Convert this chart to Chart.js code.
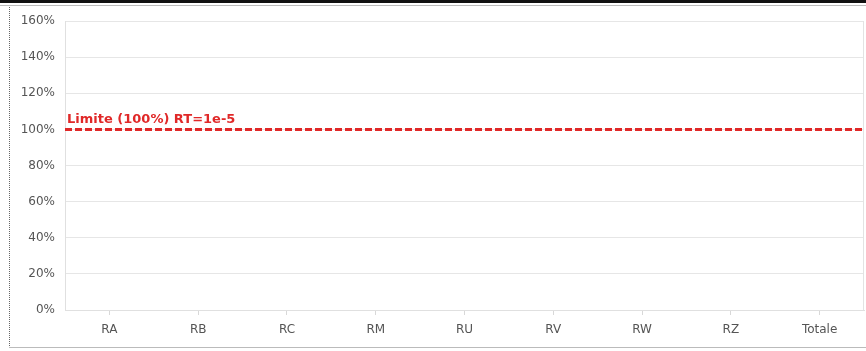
<!DOCTYPE html>
<html>
<head>
<meta charset="utf-8">
<script src="https://cdn.jsdelivr.net/npm/chart.js@4"></script>
<style>
  html, body { margin: 0; padding: 0; background: #fff; }
  #wrap { position: relative; width: 866px; height: 351px; overflow: hidden; }
  #chart { position: absolute; left: 0; top: 0; }
  .topline { position: absolute; left: 0; top: 0; width: 866px; height: 3px; background: #111; }
  .topline2 { position: absolute; left: 0; top: 5px; width: 866px; height: 1px; background: #bbb; }
  .leftdots { position: absolute; left: 9px; top: 7px; height: 341px; border-left: 1px dotted #666; }
  .bottomline { position: absolute; left: 9px; top: 347px; width: 857px; height: 1px; background: #bbb; }
</style>
</head>
<body>
<div id="wrap">
  <canvas id="chart" width="866" height="351"></canvas>
  <div class="topline"></div>
  <div class="topline2"></div>
  <div class="leftdots"></div>
  <div class="bottomline"></div>
</div>
<script>
const categories = ["RA", "RB", "RC", "RM", "RU", "RV", "RW", "RZ", "Totale"]
// no bars visible in the picture
const values = [null, null, null, null, null, null, null, null, null]
const limitValue = 100
const limitLabel = "Limite (100%) RT=1e-5"
const yMax = 160
const yStep = 20

const limitLine = {
  id: "limitLine",
  afterDatasetsDraw(chart) {
    const { ctx, chartArea, scales } = chart
    const y = Math.round(scales.y.getPixelForValue(limitValue)) + 0.5
    ctx.save()
    // right border of the plot
    ctx.strokeStyle = "#e3e3e3"
    ctx.lineWidth = 1
    ctx.beginPath()
    ctx.moveTo(Math.round(chartArea.right) - 0.5, chartArea.top)
    ctx.lineTo(Math.round(chartArea.right) - 0.5, chartArea.bottom)
    ctx.stroke()

    ctx.strokeStyle = "#e02828"
    ctx.lineWidth = 3
    ctx.setLineDash([7, 3])
    ctx.beginPath()
    ctx.moveTo(chartArea.left, y)
    ctx.lineTo(chartArea.right, y)
    ctx.stroke()
    ctx.setLineDash([])
    ctx.fillStyle = "#e02828"
    ctx.font = "bold 13px 'DejaVu Sans'"
    ctx.textBaseline = "alphabetic"
    ctx.fillText(limitLabel, chartArea.left + 2, y - 7)
    ctx.restore()
  }
}

new Chart(document.getElementById("chart"), {
  type: "bar",
  data: {
    labels: categories,
    datasets: [{ label: "RT", data: values, backgroundColor: "#4f81bd" }]
  },
  options: {
    responsive: false,
    animation: false,
    layout: { padding: { top: 21, right: 2, left: 0, bottom: 0 } },
    plugins: { legend: { display: false }, tooltip: { enabled: false } },
    scales: {
      x: {
        afterFit: (scale) => { scale.height = 41 },
        grid: {
          offset: false,
          drawOnChartArea: false,
          drawTicks: true,
          tickLength: 5,
          color: "#d8d8d8"
        },
        border: { color: "#e0e0e0" },
        ticks: {
          color: "#555",
          padding: 8,
          font: { family: "'DejaVu Sans'", size: 12 }
        }
      },
      y: {
        min: 0,
        max: yMax,
        afterFit: (scale) => { scale.width = 65 },
        grid: { color: "#e6e6e6", drawTicks: false },
        border: { color: "#e0e0e0" },
        ticks: {
          stepSize: yStep,
          padding: 10,
          color: "#555",
          font: { family: "'DejaVu Sans'", size: 12 },
          callback: (v) => v + "%"
        }
      }
    }
  },
  plugins: [limitLine]
})
</script>
</body>
</html>
